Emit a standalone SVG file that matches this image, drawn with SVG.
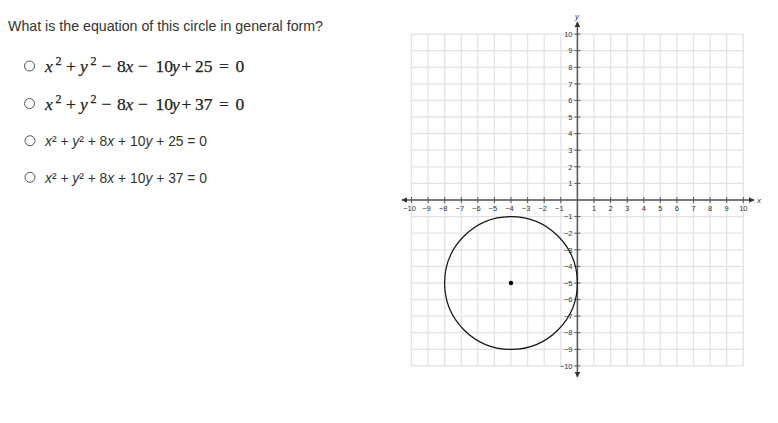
<svg xmlns="http://www.w3.org/2000/svg" width="778" height="423" viewBox="0 0 778 423">
<style>
.q{font-family:"Liberation Sans",Arial,sans-serif;font-size:14.2px;fill:#333}
.o{font-family:"Liberation Sans",Arial,sans-serif;font-size:13.8px;fill:#333}
.m{font-family:"Liberation Serif","Times New Roman",serif;font-size:17.5px;fill:#222;stroke:#222;stroke-width:0.25}
.i{font-style:italic}
.s{font-size:12px}
.radio{fill:#fff;stroke:#555;stroke-width:1}
.grid{stroke:#e3e3e3;stroke-width:1.3;fill:none}
.axis{stroke:#555;stroke-width:1.5;fill:none}
.tick{stroke:#555;stroke-width:1}
.tl{font-family:"Liberation Sans",Arial,sans-serif;font-size:7.5px;fill:#333}
.tx{text-anchor:middle}
.ty{text-anchor:end}
.lab{font-family:"Liberation Sans",Arial,sans-serif;font-size:8px;font-style:italic;fill:#333}
</style>
<defs>
<marker id="ah" viewBox="0 0 10 10" refX="9" refY="5" markerWidth="6" markerHeight="6" markerUnits="userSpaceOnUse" orient="auto">
<path d="M0,0 L10,5 L0,10 z" fill="#333"/>
</marker>
</defs>
<text class="q" x="8" y="30.5" textLength="315" lengthAdjust="spacingAndGlyphs">What is the equation of this circle in general form?</text>
<g id="opt1">
<circle class="radio" cx="29.5" cy="66" r="5"/>
<text class="m" y="72.3"><tspan class="i" x="45">x</tspan><tspan class="s" x="55.5" dy="-7">2</tspan><tspan x="66" dy="7">+</tspan><tspan class="i" x="80">y</tspan><tspan class="s" x="90.5" dy="-7">2</tspan><tspan x="101.5" dy="7">−</tspan><tspan x="117">8</tspan><tspan class="i" x="125.5">x</tspan><tspan x="138">−</tspan><tspan x="155.5">10</tspan><tspan class="i" x="172">y</tspan><tspan x="181.5">+</tspan><tspan x="195">25</tspan><tspan x="219">=</tspan><tspan x="235.5">0</tspan></text>
</g>
<g id="opt2">
<circle class="radio" cx="29.5" cy="103.5" r="5"/>
<text class="m" y="109.8"><tspan class="i" x="45">x</tspan><tspan class="s" x="55.5" dy="-7">2</tspan><tspan x="66" dy="7">+</tspan><tspan class="i" x="80">y</tspan><tspan class="s" x="90.5" dy="-7">2</tspan><tspan x="101.5" dy="7">−</tspan><tspan x="117">8</tspan><tspan class="i" x="125.5">x</tspan><tspan x="138">−</tspan><tspan x="155.5">10</tspan><tspan class="i" x="172">y</tspan><tspan x="181.5">+</tspan><tspan x="195">37</tspan><tspan x="219">=</tspan><tspan x="235.5">0</tspan></text>
</g>
<g id="opt3">
<circle class="radio" cx="30" cy="140.7" r="5"/>
<text class="o" x="45" y="146" textLength="162" lengthAdjust="spacingAndGlyphs"><tspan class="i">x</tspan>² + <tspan class="i">y</tspan>² + 8<tspan class="i">x</tspan> + 10<tspan class="i">y</tspan> + 25 = 0</text>
</g>
<g id="opt4">
<circle class="radio" cx="30" cy="177.3" r="5"/>
<text class="o" x="45" y="182.6" textLength="162" lengthAdjust="spacingAndGlyphs"><tspan class="i">x</tspan>² + <tspan class="i">y</tspan>² + 8<tspan class="i">x</tspan> + 10<tspan class="i">y</tspan> + 37 = 0</text>
</g>
<g id="graph">
<path class="grid" d="M411.5,34.1V365.9M428.1,34.1V365.9M444.7,34.1V365.9M461.3,34.1V365.9M477.8,34.1V365.9M494.4,34.1V365.9M511,34.1V365.9M527.6,34.1V365.9M544.2,34.1V365.9M560.8,34.1V365.9M577.4,34.1V365.9M594,34.1V365.9M610.6,34.1V365.9M627.2,34.1V365.9M643.8,34.1V365.9M660.3,34.1V365.9M676.9,34.1V365.9M693.5,34.1V365.9M710.1,34.1V365.9M726.7,34.1V365.9M743.3,34.1V365.9
M411.5,34.1H743.3M411.5,50.7H743.3M411.5,67.3H743.3M411.5,83.9H743.3M411.5,100.4H743.3M411.5,117H743.3M411.5,133.6H743.3M411.5,150.2H743.3M411.5,166.8H743.3M411.5,183.4H743.3M411.5,200H743.3M411.5,216.6H743.3M411.5,233.2H743.3M411.5,249.8H743.3M411.5,266.4H743.3M411.5,283H743.3M411.5,299.6H743.3M411.5,316.1H743.3M411.5,332.7H743.3M411.5,349.3H743.3M411.5,365.9H743.3"/>
<g id="axes">
<line class="axis" x1="577.4" y1="200" x2="402" y2="200" marker-end="url(#ah)"/>
<line class="axis" x1="577.4" y1="200" x2="754" y2="200" marker-end="url(#ah)"/>
<line class="axis" x1="577.4" y1="200" x2="577.4" y2="22" marker-end="url(#ah)"/>
<line class="axis" x1="577.4" y1="200" x2="577.4" y2="377" marker-end="url(#ah)"/>
<path class="tick" d="M411.5,197V203M428.1,197V203M444.7,197V203M461.3,197V203M477.8,197V203M494.4,197V203M511,197V203M527.6,197V203M544.2,197V203M560.8,197V203M594,197V203M610.6,197V203M627.2,197V203M643.8,197V203M660.3,197V203M676.9,197V203M693.5,197V203M710.1,197V203M726.7,197V203M743.3,197V203
M574.4,34.1H580.4M574.4,50.7H580.4M574.4,67.3H580.4M574.4,83.9H580.4M574.4,100.4H580.4M574.4,117H580.4M574.4,133.6H580.4M574.4,150.2H580.4M574.4,166.8H580.4M574.4,183.4H580.4M574.4,216.6H580.4M574.4,233.2H580.4M574.4,249.8H580.4M574.4,266.4H580.4M574.4,283H580.4M574.4,299.6H580.4M574.4,316.1H580.4M574.4,332.7H580.4M574.4,349.3H580.4M574.4,365.9H580.4"/>
<text class="lab" x="575" y="19">y</text>
<text class="lab" x="757" y="203">x</text>
</g>
<g id="xlabels" class="tl tx">
<text x="409.5" y="210.5">−10</text><text x="426.6" y="210.5">−9</text><text x="443.2" y="210.5">−8</text><text x="459.8" y="210.5">−7</text><text x="476.3" y="210.5">−6</text><text x="492.9" y="210.5">−5</text><text x="509.5" y="210.5">−4</text><text x="526.1" y="210.5">−3</text><text x="542.7" y="210.5">−2</text><text x="559.3" y="210.5">−1</text>
<text x="594" y="210.5">1</text><text x="610.6" y="210.5">2</text><text x="627.2" y="210.5">3</text><text x="643.8" y="210.5">4</text><text x="660.3" y="210.5">5</text><text x="676.9" y="210.5">6</text><text x="693.5" y="210.5">7</text><text x="710.1" y="210.5">8</text><text x="726.7" y="210.5">9</text><text x="743.3" y="210.5">10</text>
</g>
<g id="ylabels" class="tl ty">
<text x="572.5" y="36.8">10</text><text x="572.5" y="53.4">9</text><text x="572.5" y="70">8</text><text x="572.5" y="86.6">7</text><text x="572.5" y="103.1">6</text><text x="572.5" y="119.7">5</text><text x="572.5" y="136.3">4</text><text x="572.5" y="152.9">3</text><text x="572.5" y="169.5">2</text><text x="572.5" y="186.1">1</text>
<text x="572.5" y="219.3">−1</text><text x="572.5" y="235.9">−2</text><text x="572.5" y="252.5">−3</text><text x="572.5" y="269.1">−4</text><text x="572.5" y="285.7">−5</text><text x="572.5" y="302.3">−6</text><text x="572.5" y="318.8">−7</text><text x="572.5" y="335.4">−8</text><text x="572.5" y="352">−9</text><text x="572.5" y="368.6">−10</text>
</g>
<g id="circle">
<circle cx="511" cy="283" r="66.4" fill="none" stroke="#111" stroke-width="1.2"/>
<circle cx="511" cy="283" r="2.2" fill="#000"/>
</g>
</g>
</svg>
